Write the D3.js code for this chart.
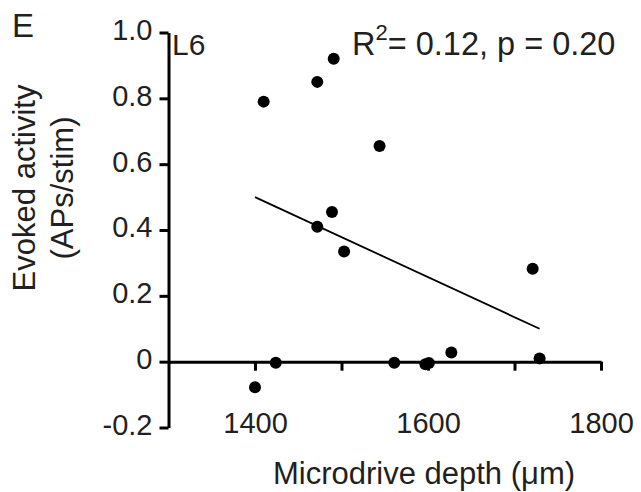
<!DOCTYPE html>
<html>
<head>
<meta charset="utf-8">
<script src="https://cdn.jsdelivr.net/npm/d3@7"></script>
<style>
  html, body { margin: 0; padding: 0; background: #fff; }
  svg { display: block; font-family: "Liberation Sans", Arial, sans-serif; }
</style>
</head>
<body>
<svg id="chart" width="641" height="492"></svg>
<script>
// Panel E: evoked activity vs microdrive depth, layer 6

const depth    = [1491, 1472, 1410, 1544, 1489, 1472, 1503, 1721, 1424, 1400, 1561, 1597, 1601, 1627, 1729];
const activity = [0.92, 0.85, 0.79, 0.655, 0.455, 0.41, 0.335, 0.282, -0.003, -0.078, -0.003, -0.008, -0.004, 0.028, 0.01];

// regression line end points
const fitDepth    = [1400, 1729];
const fitActivity = [0.50, 0.10];

const xTicks = [1400, 1500, 1600, 1700, 1800];
const xTickLabels = ["1400", "", "1600", "", "1800"];
const yTicks = [1.0, 0.8, 0.6, 0.4, 0.2, 0, -0.2];
const yTickLabels = ["1.0", "0.8", "0.6", "0.4", "0.2", "0", "-0.2"];

const ink = "#000";
const textColor = "#231f20";

const svg = d3.select("#chart");

const x = d3.scaleLinear().domain([1300, 1800]).range([168.5, 601]);
const y = d3.scaleLinear().domain([-0.2, 1.0]).range([427.5, 32.5]);

// x axis sits at y = 0, labels are dropped down below the plot
const xAxis = d3.axisBottom(x)
  .tickValues(xTicks)
  .tickFormat((d, i) => xTickLabels[i])
  .tickSize(9)
  .tickSizeOuter(0)
  .tickPadding(42);

svg.append("g")
  .attr("transform", `translate(0,${y(0)})`)
  .call(xAxis);

const yAxis = d3.axisLeft(y)
  .tickValues(yTicks)
  .tickFormat((d, i) => yTickLabels[i])
  .tickSize(9)
  .tickSizeOuter(0)
  .tickPadding(7);

const gy = svg.append("g")
  .attr("transform", `translate(${x(1300)},0)`)
  .call(yAxis);

gy.selectAll(".tick text").attr("dy", "0.24em");

svg.selectAll(".domain, .tick line")
  .attr("stroke", ink)
  .attr("stroke-width", 3);
svg.selectAll(".tick text")
  .attr("fill", textColor)
  .attr("font-size", 29)
  .attr("font-family", "Liberation Sans, Arial, sans-serif");

// regression line
svg.append("path")
  .datum(fitDepth.map((d, i) => [d, fitActivity[i]]))
  .attr("fill", "none")
  .attr("stroke", ink)
  .attr("stroke-width", 1.8)
  .attr("d", d3.line().x(d => x(d[0])).y(d => y(d[1])));

// points
svg.selectAll("circle.pt")
  .data(depth.map((d, i) => ({ depth: d, activity: activity[i] })))
  .join("circle")
  .attr("class", "pt")
  .attr("cx", d => x(d.depth))
  .attr("cy", d => y(d.activity))
  .attr("r", 6)
  .attr("fill", ink);

// labels
svg.append("text")
  .attr("x", 12).attr("y", 37)
  .attr("font-size", 33)
  .attr("fill", textColor)
  .text("E");

svg.append("text")
  .attr("x", 172).attr("y", 55)
  .attr("font-size", 30)
  .attr("fill", textColor)
  .text("L6");

const stat = svg.append("text")
  .attr("x", 352).attr("y", 55)
  .attr("font-size", 32.5)
  .attr("fill", textColor);
stat.append("tspan").text("R");
stat.append("tspan").attr("font-size", 22).attr("dy", -15).text("2");
stat.append("tspan").attr("dy", 15).text("= 0.12, p = 0.20");

svg.append("text")
  .attr("x", 424).attr("y", 484)
  .attr("text-anchor", "middle")
  .attr("font-size", 31)
  .attr("fill", textColor)
  .text("Microdrive depth (\u03bcm)");

const yTitle = svg.append("text")
  .attr("transform", "translate(35,188) rotate(-90)")
  .attr("text-anchor", "middle")
  .attr("font-size", 31)
  .attr("fill", textColor);
yTitle.append("tspan").attr("x", 0).attr("y", 0).text("Evoked activity");
yTitle.append("tspan").attr("x", 0).attr("y", 38).text("(APs/stim)");
</script>
</body>
</html>
